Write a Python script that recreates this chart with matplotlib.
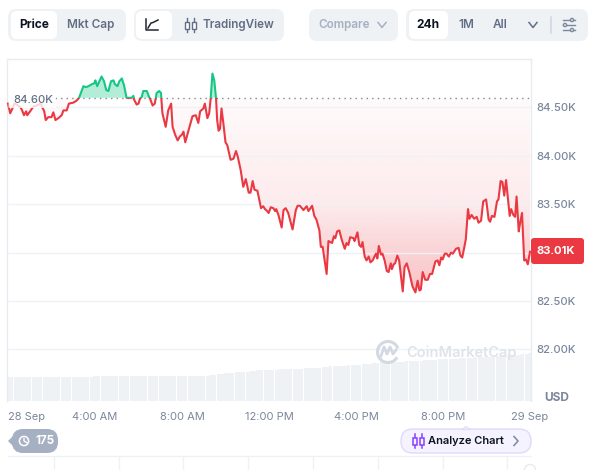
import numpy as np
import matplotlib
matplotlib.use('Agg')
import matplotlib.pyplot as plt
from matplotlib.patches import FancyBboxPatch, Circle, Arc, Rectangle, Polygon
from matplotlib.colors import to_rgb
from matplotlib.path import Path

plt.rcParams['font.family'] = ['Inter', 'DejaVu Sans']

# price, minutes after midnight / thousands of USD
minutes = [0,6,11,18,28,35,40,44,50,53,61,70,79,90,96,100,104,111,120,125,131,139,148,153,162,168,180,189,196,
           208,215,222,231,238,241,246,252,258,265,271,277,284,291,295,302,307,314,320,327,341,346,348,355,360,364,
           369,373,383,389,392,399,405,410,417,422,423,426,435,442,450,454,461,468,474,480,484,489,497,509,518,525,
           530,539,543,550,555,559,564,569,574,577,581,585,589,594,600,605,614,622,629,634,642,649,656,664,669,675,
           680,688,698,704,709,715,719,725,732,737,740,746,755,760,766,773,785,794,799,805,815,824,829,839,845,851,
           859,863,868,879,884,894,899,903,908,914,921,929,934,939,944,953,956,964,969,974,978,984,989,995,1000,1006,
           1015,1019,1023,1029,1033,1039,1045,1050,1056,1059,1064,1068,1074,1079,1089,1094,1100,1107,1116,1124,1130,
           1135,1139,1144,1151,1158,1164,1170,1179,1185,1190,1195,1199,1205,1210,1216,1222,1227,1236,1243,1248,1253,
           1259,1263,1269,1273,1279,1286,1293,1298,1305,1311,1319,1326,1330,1335,1342,1349,1353,1359,1364,1369,1374,
           1379,1384,1388,1394,1399,1403,1409,1412,1418,1424,1429,1434,1440]
prices = [84.54,84.44,84.48,84.54,84.52,84.50,84.46,84.42,84.46,84.42,84.46,84.51,84.52,84.54,84.49,84.46,84.37,84.40,
          84.40,84.45,84.37,84.39,84.42,84.47,84.47,84.54,84.55,84.57,84.60,
          84.72,84.71,84.72,84.74,84.75,84.78,84.72,84.77,84.82,84.77,84.68,84.67,84.77,84.78,84.74,84.72,84.77,84.80,
          84.73,84.60,84.60,84.62,84.58,84.53,84.54,84.59,
          84.61,84.67,84.67,84.61,84.59,84.52,84.54,84.65,84.67,84.65,84.59,84.44,84.30,84.47,84.54,84.30,84.22,84.16,
          84.20,84.22,84.25,84.14,84.25,84.41,84.42,84.34,
          84.46,84.49,84.54,84.39,84.44,84.59,84.85,84.78,84.59,84.37,84.26,84.28,84.49,84.34,84.14,84.11,83.96,83.97,
          84.05,83.99,83.85,83.68,83.76,83.62,83.62,83.74,
          83.65,83.64,83.46,83.48,83.45,83.43,83.41,83.47,83.46,83.43,83.45,83.39,83.26,83.44,83.46,83.41,83.24,83.44,
          83.485,83.485,83.44,83.48,83.43,83.485,83.38,83.34,
          83.23,83.06,83.06,82.78,83.12,83.10,83.17,83.15,83.22,83.23,83.13,83.04,83.10,83.08,83.16,83.15,83.12,83.21,
          83.08,83.06,83.11,82.96,82.92,82.96,82.90,82.92,
          82.99,82.94,83.07,82.98,82.99,82.92,82.81,82.80,82.89,82.83,82.88,82.89,82.97,82.92,82.60,82.85,82.89,82.80,
          82.65,82.59,82.71,
          82.61,82.62,82.80,82.72,82.72,82.78,82.78,82.91,82.92,82.87,82.95,82.93,82.99,82.99,82.96,83.00,82.99,83.04,
          83.05,82.97,82.95,
          83.06,83.14,83.45,83.35,83.39,83.35,83.37,83.31,83.33,83.53,83.55,83.34,83.32,83.38,83.37,83.53,83.55,83.74,
          83.73,83.59,83.75,
          83.56,83.38,83.45,83.39,83.37,83.58,83.22,83.29,83.41,82.92,82.93,82.88,83.01]
baseline = 84.60
last_price = '83.01K'

# grey volume bars, one every 10 minutes (relative height)
volume = [7.0,7.0,7.0,7.0,7.0,7.0,7.0,6.9,7.0,7.0,7.0,7.0,7.0,7.0,7.0,7.0,7.0,7.0,7.0,7.0,7.0,7.0,7.0,7.0,
          7.2,7.3,7.2,7.2,7.3,7.2,7.2,7.2,7.2,7.2,7.1,7.2,7.2,7.2,7.2,7.2,7.2,7.2,7.2,7.2,7.2,7.2,7.2,7.2,
          7.2,7.2,7.2,7.3,7.2,7.2,7.2,7.3,7.4,7.5,7.7,7.9,8.0,8.0,8.1,8.3,8.4,8.5,8.5,8.6,8.7,8.8,8.8,8.9,
          8.9,9.0,9.0,9.1,9.2,9.2,9.1,9.2,9.3,9.3,9.4,9.4,9.5,9.5,9.6,9.8,9.9,10.0,10.0,10.1,10.1,10.2,10.3,10.3,
          10.4,10.5,10.6,10.6,10.8,11.0,11.1,11.2,11.2,11.2,11.3,11.3,11.4,11.4,11.5,11.5,11.5,11.6,11.7,11.8,11.9,12.0,12.0,12.1,
          12.1,12.1,12.2,12.3,12.3,12.4,12.4,12.5,12.5,12.6,12.6,12.7,12.8,12.8,12.9,13.0,13.0,13.1,13.2,13.2,13.3,13.4,13.5,13.7,13.8]
volume_minutes = list(range(0, 1450, 10))

y_ticks = [84.5, 84.0, 83.5, 83.0, 82.5, 82.0]
# 83.00K sits behind the last price tag
y_labels = ['84.50K', '84.00K', '83.50K', '', '82.50K', '82.00K']
x_ticks = [0, 240, 480, 720, 960, 1200, 1440]
x_labels = ['28 Sep', '4:00 AM', '8:00 AM', '12:00 PM', '4:00 PM', '8:00 PM', '29 Sep']

RED = '#ea3943'
GREEN = '#16c784'
GRID = '#eff2f5'
TICK = '#7b879c'

minutes = np.array(minutes)
prices = np.array(prices)

fig = plt.figure(figsize=(5.96, 4.70), dpi=100)
W, H = 596, 470
pos = [7.5 / W, 1 - 400.6 / H, 523.5 / W, 342.1 / H]

# volume behind the price
ax_vol = fig.add_axes(pos, zorder=0)
ax_vol.bar(volume_minutes, volume, width=9.4, color='#eff2f5', linewidth=0)
ax_vol.set_xlim(-1.4, 1442.8)
ax_vol.set_ylim(0, 100)
ax_vol.axis('off')

ax = fig.add_axes(pos, zorder=1)
ax.patch.set_visible(False)

# red gradient under the baseline, clipped to the area
band = ax.fill_between(minutes, prices, baseline, where=prices <= baseline, interpolate=True, color='none', linewidth=0)
alpha_y = np.linspace(baseline, 82.6, 200)
alpha = np.interp(alpha_y, [82.6, 83.0, 83.5, 84.0, 84.6], [0.30, 0.22, 0.10, 0.07, 0.02])
img = np.zeros((200, 1, 4))
img[..., :3] = to_rgb(RED)
img[:, 0, 3] = alpha
grad = ax.imshow(img, extent=[0, 1440, 82.6, baseline], aspect='auto', zorder=2, interpolation='bilinear')
grad.set_clip_path(Path.make_compound_path(*band.get_paths()), ax.transData)

ax.fill_between(minutes, prices, baseline, where=prices >= baseline, interpolate=True, color=GREEN, alpha=0.32,
                linewidth=0, zorder=2)

ax.hlines(y_ticks, -1.4, 1442.8, color=GRID, linewidth=1, zorder=3)

above = ax.plot(minutes, prices, color=GREEN, linewidth=1.5, zorder=5, solid_joinstyle='round')[0]
below = ax.plot(minutes, prices, color=RED, linewidth=1.5, zorder=5, solid_joinstyle='round')[0]
above.set_clip_path(Rectangle((-10, baseline), 1470, 2, transform=ax.transData))
below.set_clip_path(Rectangle((-10, 80), 1470, baseline - 80, transform=ax.transData))

ax.plot([130, 1440], [baseline, baseline], color='#808a9d', linewidth=1, dashes=(1, 3), zorder=4)

ax.set_xlim(-1.4, 1442.8)
ax.set_ylim(81.472, 85.006)
ax.yaxis.tick_right()
ax.set_yticks(y_ticks)
ax.set_yticklabels(y_labels, fontsize=8.1, color=TICK, fontweight='medium')
ax.set_xticks(x_ticks)
ax.set_xticklabels(x_labels, fontsize=8, color=TICK)
ax.get_xticklabels()[0].set_ha('left')
ax.tick_params(axis='both', length=0)
ax.tick_params(axis='y', pad=4)
ax.tick_params(axis='x', pad=8)
for s in ['left', 'top', 'right']:
    ax.spines[s].set_color('#e8ebef')
    ax.spines[s].set_linewidth(1)
ax.spines['bottom'].set_visible(False)

# page furniture, drawn in pixel coordinates
ui = fig.add_axes([0, 0, 1, 1], zorder=5)
ui.set_xlim(0, W)
ui.set_ylim(H, 0)
ui.axis('off')


def box(x0, y0, x1, y1, color, r=7, ec='none', lw=0, alpha=1, z=2):
    p = FancyBboxPatch((x0 + r, y0 + r), x1 - x0 - 2 * r, y1 - y0 - 2 * r, boxstyle='round,pad=%g,rounding_size=%g' % (r, r),
                       fc=color, ec=ec, lw=lw, alpha=alpha, zorder=z)
    ui.add_patch(p)


def label(x, y, s, color, size=8.4, weight='medium', ha='center'):
    ui.text(x, y, s, color=color, fontsize=size, fontweight=weight, ha=ha, va='center', zorder=6)


def chevron(x, y, color, w=4, h=2.5):
    ui.plot([x - w, x, x + w], [y - h, y + h, y - h], color=color, lw=1.1, zorder=6)


def candles(x, y, color, lw=1.0):
    for dx in (-3.5, 3.5):
        ui.add_patch(Rectangle((x + dx - 2, y - 3), 4, 7, fc='white', ec=color, lw=lw, zorder=6))
        ui.plot([x + dx, x + dx], [y - 7, y + 7], color=color, lw=lw, zorder=5)


FILL = '#eff2f5'
box(8, 9, 126, 41, FILL, 8)
box(11, 11, 57, 39, 'white', 6)
label(34, 25, 'Price', '#0d1421', 8.6, 'bold')
label(91, 25, 'Mkt Cap', '#616e85', 8.5, 'semibold')

box(134, 9, 284, 41, FILL, 8)
box(136, 11, 172, 39, 'white', 6)
ui.plot([146, 146, 158], [19, 30, 30], color='#222531', lw=1.1, zorder=6)
ui.plot([148, 151, 153, 158], [28, 23, 22.5, 20], color='#222531', lw=1.1, zorder=6)
candles(190, 25, '#616e85')
label(238.5, 25, 'TradingView', '#616e85', 8.4, 'semibold')

box(309, 9, 398, 41, FILL, 8)
label(344, 25, 'Compare', '#a6b0c3', 8.4, 'semibold')
chevron(382, 25, '#a6b0c3')

box(406, 9, 588, 41, FILL, 8)
box(409, 11, 448, 39, 'white', 6)
label(428, 25, '24h', '#0d1421', 8.6, 'bold')
label(466, 25, '1M', '#616e85', 8.5, 'semibold')
label(500, 25, 'All', '#616e85', 8.5, 'semibold')
chevron(533, 25, '#616e85')
ui.plot([551, 551], [17, 33], color='#cfd6e4', lw=1.1, zorder=6)
for yy, xx in ((20, 572), (25, 565), (30, 572)):
    ui.plot([563, 575], [yy, yy], color='#7b879c', lw=1, zorder=6)
    ui.add_patch(Circle((xx, yy), 1.6, fc=FILL, ec='#7b879c', lw=1, zorder=7))

# baseline value sits on a faded box over the line
box(8.5, 92, 56, 108, 'white', 1, alpha=0.8, z=1)
label(33.5, 100, '84.60K', '#616e85', 8.1, 'medium')

# last price tag
box(531, 238, 584, 264, RED, 3)
label(555.5, 251, last_price, 'white', 8.1, 'bold')
label(556.5, 398, 'USD', TICK, 8.6, 'bold')

# watermark
wm = '#d3d9e3'
ui.add_patch(Arc((388, 352), 21, 21, theta1=30, theta2=340, ec=wm, lw=2.2, zorder=6))
ui.plot([381, 384, 387, 390, 393, 396], [356, 347, 354, 347, 354, 350], color=wm, lw=2, zorder=6)
label(461.5, 353, 'CoinMarketCap', '#dfe3ea', 10.5, 'semibold')

# bottom badges
box(12, 429, 58, 453, '#a6b0c3', 11)
ui.add_patch(Polygon([[8, 441], [16, 433], [16, 449]], fc='#a6b0c3', ec='none', zorder=2))
ui.add_patch(Circle((24, 441), 4.6, fc='none', ec='white', lw=1.1, zorder=6))
ui.plot([24, 24, 26.5], [438.5, 441, 442.5], color='white', lw=1, zorder=6)
label(44.5, 441, '175', 'white', 8.4, 'bold')

box(401, 429, 531, 453, '#f5f3ff', 12, ec='#dfdafb', lw=1)
ui.add_patch(Polygon([[462, 429.5], [466, 426.5], [470, 429.5]], fc='#f5f3ff', ec='#dfdafb', lw=0.8, zorder=2))
for dx in (-3.5, 3.5):
    ui.add_patch(Rectangle((418 + dx - 2, 438), 4, 7, fc='#f5f3ff', ec='#8a3ffc', lw=1.1, zorder=6))
    ui.plot([418 + dx, 418 + dx], [434, 448], color='#8a3ffc', lw=1.1, zorder=5)
label(465.5, 441, 'Analyze Chart', '#0d1421', 8, 'semibold')
ui.plot([514, 518, 514], [436.5, 441, 445.5], color='#7b879c', lw=1.1, zorder=6)

# start of the table underneath
ui.plot([8, 531], [455.5, 455.5], color='#eff2f5', lw=1, zorder=1)
for xv in [54, 119, 183, 248, 313, 378, 443, 507]:
    ui.plot([xv, xv], [455.5, 470], color='#eff2f5', lw=1, zorder=1)
ui.add_patch(Circle((530, 470), 5.5, fc='white', ec='#e8ebef', lw=1, zorder=2))

plt.savefig('out.png', dpi=100)
plt.close()
